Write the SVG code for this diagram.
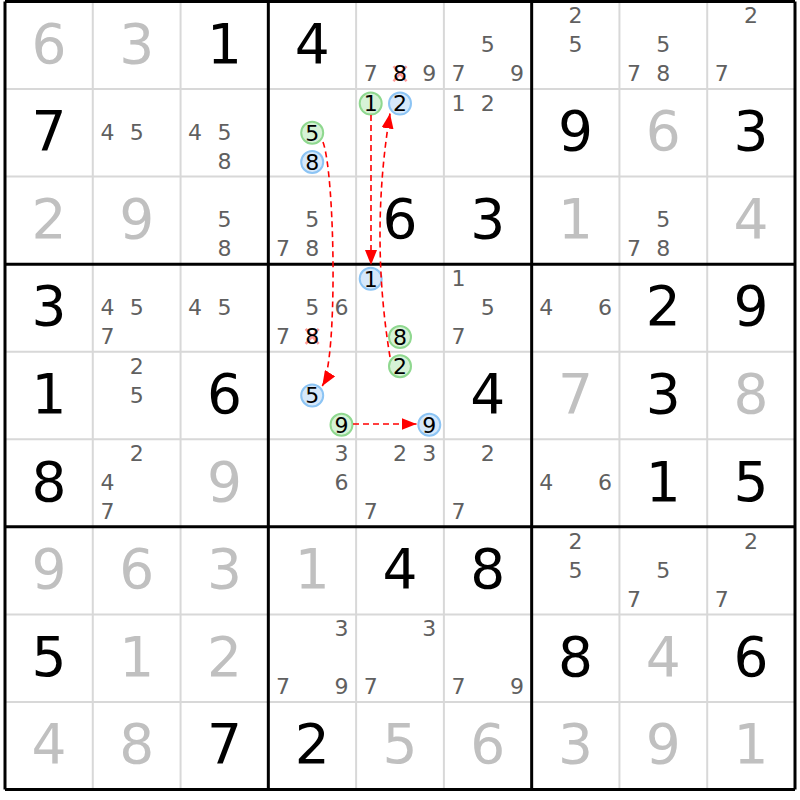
<svg xmlns="http://www.w3.org/2000/svg" width="800" height="800" viewBox="0 0 800 800">
<style>
text{font-family:"DejaVu Sans","Liberation Sans",sans-serif;text-anchor:middle}
.g{font-size:55px;fill:#000}
.s{font-size:55px;fill:#c0c0c0}
.c{font-size:22px;fill:#606060}
.d{font-size:22px;fill:#000}
.gc{fill:#d6f2d6;stroke:#8fd88f;stroke-width:2}
.bc{fill:#d6e8fa;stroke:#8cc4f4;stroke-width:2}
.x{stroke:#ff7070;stroke-opacity:.7;stroke-width:2.5}
.thin{stroke:#d8d8d8;stroke-width:2}
.thick{stroke:#000;stroke-width:3}
.a{fill:none;stroke:#ff0000;stroke-width:1.6;stroke-dasharray:6 4;marker-end:url(#ah)}
</style>
<defs>
<marker id="ah" markerUnits="userSpaceOnUse" markerWidth="15" markerHeight="12" refX="15" refY="6" orient="auto"><path d="M0,0 L15,6 L0,12 z" fill="#ff0000"/></marker>
</defs>
<rect width="800" height="800" fill="#fff"/>
<g id="grid">
<path class="thin" d="M92.78,1.5V789.5M180.56,1.5V789.5M356.11,1.5V789.5M443.89,1.5V789.5M619.44,1.5V789.5M707.22,1.5V789.5M5,89.06H795M5,176.6H795M5,351.7H795M5,439.3H795M5,614.4H795M5,701.9H795"/>
<path class="thick" d="M5,1.5V789.5M268.33,1.5V789.5M531.67,1.5V789.5M795,1.5V789.5M5,1.5H795M5,264.2H795M5,526.8H795M5,789.5H795"/>
</g>
<g id="cells">
<g id="r1c1" transform="translate(48.9,45.3)"><text class="s" y="17.5">6</text></g>
<g id="r1c2" transform="translate(136.7,45.3)"><text class="s" y="17.5">3</text></g>
<g id="r1c3" transform="translate(224.4,45.3)"><text class="g" y="17.5">1</text></g>
<g id="r1c4" transform="translate(312.2,45.3)"><text class="g" y="17.5">4</text></g>
<g id="r1c5" transform="translate(400,45.3)"><text class="c" x="-29.3" y="36">7</text><path class="x" d="M-6.5,21L6.5,36M6.5,21L-6.5,36"/><text class="d" x="0" y="36">8</text><text class="c" x="29.3" y="36">9</text></g>
<g id="r1c6" transform="translate(487.8,45.3)"><text class="c" x="0" y="7">5</text><text class="c" x="-29.3" y="36">7</text><text class="c" x="29.3" y="36">9</text></g>
<g id="r1c7" transform="translate(575.6,45.3)"><text class="c" x="0" y="-22">2</text><text class="c" x="0" y="7">5</text></g>
<g id="r1c8" transform="translate(663.3,45.3)"><text class="c" x="0" y="7">5</text><text class="c" x="-29.3" y="36">7</text><text class="c" x="0" y="36">8</text></g>
<g id="r1c9" transform="translate(751.1,45.3)"><text class="c" x="0" y="-22">2</text><text class="c" x="-29.3" y="36">7</text></g>
<g id="r2c1" transform="translate(48.9,132.8)"><text class="g" y="17.5">7</text></g>
<g id="r2c2" transform="translate(136.7,132.8)"><text class="c" x="-29.3" y="7">4</text><text class="c" x="0" y="7">5</text></g>
<g id="r2c3" transform="translate(224.4,132.8)"><text class="c" x="-29.3" y="7">4</text><text class="c" x="0" y="7">5</text><text class="c" x="0" y="36">8</text></g>
<g id="r2c4" transform="translate(312.2,132.8)"><circle class="gc" cx="0" cy="0" r="11"/><text class="d" x="0" y="7.8">5</text><circle class="bc" cx="0" cy="29.2" r="11"/><text class="d" x="0" y="37">8</text></g>
<g id="r2c5" transform="translate(400,132.8)"><circle class="gc" cx="-29.3" cy="-29.2" r="11"/><text class="d" x="-29.3" y="-21.4">1</text><circle class="bc" cx="0" cy="-29.2" r="11"/><text class="d" x="0" y="-21.4">2</text></g>
<g id="r2c6" transform="translate(487.8,132.8)"><text class="c" x="-29.3" y="-22">1</text><text class="c" x="0" y="-22">2</text></g>
<g id="r2c7" transform="translate(575.6,132.8)"><text class="g" y="17.5">9</text></g>
<g id="r2c8" transform="translate(663.3,132.8)"><text class="s" y="17.5">6</text></g>
<g id="r2c9" transform="translate(751.1,132.8)"><text class="g" y="17.5">3</text></g>
<g id="r3c1" transform="translate(48.9,220.4)"><text class="s" y="17.5">2</text></g>
<g id="r3c2" transform="translate(136.7,220.4)"><text class="s" y="17.5">9</text></g>
<g id="r3c3" transform="translate(224.4,220.4)"><text class="c" x="0" y="7">5</text><text class="c" x="0" y="36">8</text></g>
<g id="r3c4" transform="translate(312.2,220.4)"><text class="c" x="0" y="7">5</text><text class="c" x="-29.3" y="36">7</text><text class="c" x="0" y="36">8</text></g>
<g id="r3c5" transform="translate(400,220.4)"><text class="g" y="17.5">6</text></g>
<g id="r3c6" transform="translate(487.8,220.4)"><text class="g" y="17.5">3</text></g>
<g id="r3c7" transform="translate(575.6,220.4)"><text class="s" y="17.5">1</text></g>
<g id="r3c8" transform="translate(663.3,220.4)"><text class="c" x="0" y="7">5</text><text class="c" x="-29.3" y="36">7</text><text class="c" x="0" y="36">8</text></g>
<g id="r3c9" transform="translate(751.1,220.4)"><text class="s" y="17.5">4</text></g>
<g id="r4c1" transform="translate(48.9,307.9)"><text class="g" y="17.5">3</text></g>
<g id="r4c2" transform="translate(136.7,307.9)"><text class="c" x="-29.3" y="7">4</text><text class="c" x="0" y="7">5</text><text class="c" x="-29.3" y="36">7</text></g>
<g id="r4c3" transform="translate(224.4,307.9)"><text class="c" x="-29.3" y="7">4</text><text class="c" x="0" y="7">5</text></g>
<g id="r4c4" transform="translate(312.2,307.9)"><text class="c" x="0" y="7">5</text><text class="c" x="29.3" y="7">6</text><text class="c" x="-29.3" y="36">7</text><path class="x" d="M-6.5,21L6.5,36M6.5,21L-6.5,36"/><text class="d" x="0" y="36">8</text></g>
<g id="r4c5" transform="translate(400,307.9)"><circle class="bc" cx="-29.3" cy="-29.2" r="11"/><text class="d" x="-29.3" y="-21.4">1</text><circle class="gc" cx="0" cy="29.2" r="11"/><text class="d" x="0" y="37">8</text></g>
<g id="r4c6" transform="translate(487.8,307.9)"><text class="c" x="-29.3" y="-22">1</text><text class="c" x="0" y="7">5</text><text class="c" x="-29.3" y="36">7</text></g>
<g id="r4c7" transform="translate(575.6,307.9)"><text class="c" x="-29.3" y="7">4</text><text class="c" x="29.3" y="7">6</text></g>
<g id="r4c8" transform="translate(663.3,307.9)"><text class="g" y="17.5">2</text></g>
<g id="r4c9" transform="translate(751.1,307.9)"><text class="g" y="17.5">9</text></g>
<g id="r5c1" transform="translate(48.9,395.5)"><text class="g" y="17.5">1</text></g>
<g id="r5c2" transform="translate(136.7,395.5)"><text class="c" x="0" y="-22">2</text><text class="c" x="0" y="7">5</text></g>
<g id="r5c3" transform="translate(224.4,395.5)"><text class="g" y="17.5">6</text></g>
<g id="r5c4" transform="translate(312.2,395.5)"><circle class="bc" cx="0" cy="0" r="11"/><text class="d" x="0" y="7.8">5</text><circle class="gc" cx="29.3" cy="29.2" r="11"/><text class="d" x="29.3" y="37">9</text></g>
<g id="r5c5" transform="translate(400,395.5)"><circle class="gc" cx="0" cy="-29.2" r="11"/><text class="d" x="0" y="-21.4">2</text><circle class="bc" cx="29.3" cy="29.2" r="11"/><text class="d" x="29.3" y="37">9</text></g>
<g id="r5c6" transform="translate(487.8,395.5)"><text class="g" y="17.5">4</text></g>
<g id="r5c7" transform="translate(575.6,395.5)"><text class="s" y="17.5">7</text></g>
<g id="r5c8" transform="translate(663.3,395.5)"><text class="g" y="17.5">3</text></g>
<g id="r5c9" transform="translate(751.1,395.5)"><text class="s" y="17.5">8</text></g>
<g id="r6c1" transform="translate(48.9,483.1)"><text class="g" y="17.5">8</text></g>
<g id="r6c2" transform="translate(136.7,483.1)"><text class="c" x="0" y="-22">2</text><text class="c" x="-29.3" y="7">4</text><text class="c" x="-29.3" y="36">7</text></g>
<g id="r6c3" transform="translate(224.4,483.1)"><text class="s" y="17.5">9</text></g>
<g id="r6c4" transform="translate(312.2,483.1)"><text class="c" x="29.3" y="-22">3</text><text class="c" x="29.3" y="7">6</text></g>
<g id="r6c5" transform="translate(400,483.1)"><text class="c" x="0" y="-22">2</text><text class="c" x="29.3" y="-22">3</text><text class="c" x="-29.3" y="36">7</text></g>
<g id="r6c6" transform="translate(487.8,483.1)"><text class="c" x="0" y="-22">2</text><text class="c" x="-29.3" y="36">7</text></g>
<g id="r6c7" transform="translate(575.6,483.1)"><text class="c" x="-29.3" y="7">4</text><text class="c" x="29.3" y="7">6</text></g>
<g id="r6c8" transform="translate(663.3,483.1)"><text class="g" y="17.5">1</text></g>
<g id="r6c9" transform="translate(751.1,483.1)"><text class="g" y="17.5">5</text></g>
<g id="r7c1" transform="translate(48.9,570.6)"><text class="s" y="17.5">9</text></g>
<g id="r7c2" transform="translate(136.7,570.6)"><text class="s" y="17.5">6</text></g>
<g id="r7c3" transform="translate(224.4,570.6)"><text class="s" y="17.5">3</text></g>
<g id="r7c4" transform="translate(312.2,570.6)"><text class="s" y="17.5">1</text></g>
<g id="r7c5" transform="translate(400,570.6)"><text class="g" y="17.5">4</text></g>
<g id="r7c6" transform="translate(487.8,570.6)"><text class="g" y="17.5">8</text></g>
<g id="r7c7" transform="translate(575.6,570.6)"><text class="c" x="0" y="-22">2</text><text class="c" x="0" y="7">5</text></g>
<g id="r7c8" transform="translate(663.3,570.6)"><text class="c" x="0" y="7">5</text><text class="c" x="-29.3" y="36">7</text></g>
<g id="r7c9" transform="translate(751.1,570.6)"><text class="c" x="0" y="-22">2</text><text class="c" x="-29.3" y="36">7</text></g>
<g id="r8c1" transform="translate(48.9,658.2)"><text class="g" y="17.5">5</text></g>
<g id="r8c2" transform="translate(136.7,658.2)"><text class="s" y="17.5">1</text></g>
<g id="r8c3" transform="translate(224.4,658.2)"><text class="s" y="17.5">2</text></g>
<g id="r8c4" transform="translate(312.2,658.2)"><text class="c" x="29.3" y="-22">3</text><text class="c" x="-29.3" y="36">7</text><text class="c" x="29.3" y="36">9</text></g>
<g id="r8c5" transform="translate(400,658.2)"><text class="c" x="29.3" y="-22">3</text><text class="c" x="-29.3" y="36">7</text></g>
<g id="r8c6" transform="translate(487.8,658.2)"><text class="c" x="-29.3" y="36">7</text><text class="c" x="29.3" y="36">9</text></g>
<g id="r8c7" transform="translate(575.6,658.2)"><text class="g" y="17.5">8</text></g>
<g id="r8c8" transform="translate(663.3,658.2)"><text class="s" y="17.5">4</text></g>
<g id="r8c9" transform="translate(751.1,658.2)"><text class="g" y="17.5">6</text></g>
<g id="r9c1" transform="translate(48.9,745.7)"><text class="s" y="17.5">4</text></g>
<g id="r9c2" transform="translate(136.7,745.7)"><text class="s" y="17.5">8</text></g>
<g id="r9c3" transform="translate(224.4,745.7)"><text class="g" y="17.5">7</text></g>
<g id="r9c4" transform="translate(312.2,745.7)"><text class="g" y="17.5">2</text></g>
<g id="r9c5" transform="translate(400,745.7)"><text class="s" y="17.5">5</text></g>
<g id="r9c6" transform="translate(487.8,745.7)"><text class="s" y="17.5">6</text></g>
<g id="r9c7" transform="translate(575.6,745.7)"><text class="s" y="17.5">3</text></g>
<g id="r9c8" transform="translate(663.3,745.7)"><text class="s" y="17.5">9</text></g>
<g id="r9c9" transform="translate(751.1,745.7)"><text class="s" y="17.5">1</text></g>
</g>
<g id="connectors">
<path class="a" d="M323,142 C335,175 338,360 322.3,386"/>
<path class="a" d="M371,115 L371,265"/>
<path class="a" d="M390,357 Q370,235 390,113.5"/>
<path class="a" d="M353,424 L416.5,424"/>
</g>
</svg>
